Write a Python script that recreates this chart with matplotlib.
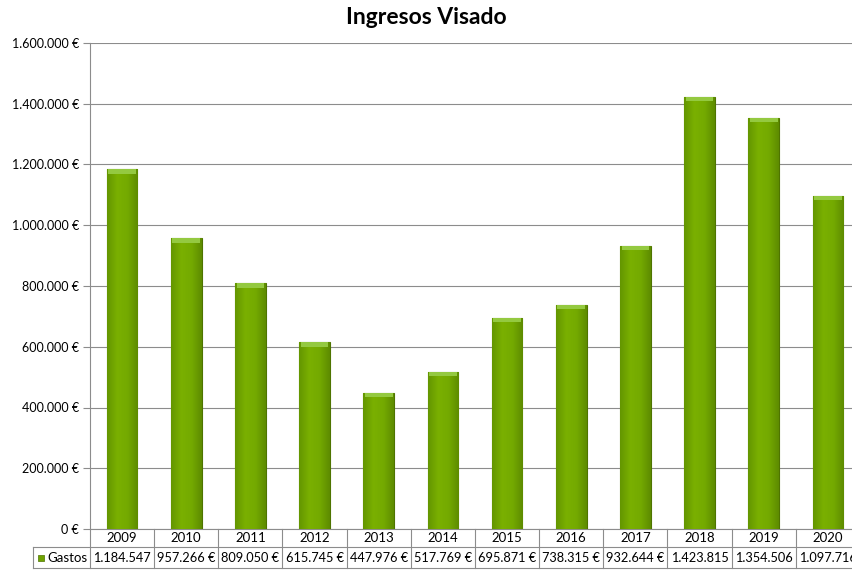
import matplotlib.pyplot as plt
from matplotlib.ticker import MultipleLocator, FuncFormatter
from matplotlib.transforms import blended_transform_factory
from matplotlib.colors import LinearSegmentedColormap
import numpy as np

plt.rcParams['font.family'] = ['Lato', 'DejaVu Sans']

years = ['2009', '2010', '2011', '2012', '2013', '2014',
         '2015', '2016', '2017', '2018', '2019', '2020']
gastos = [1184547, 957266, 809050, 615745, 447976, 517769,
          695871, 738315, 932644, 1423815, 1354506, 1097716]
serie = 'Gastos'
titulo = 'Ingresos Visado'

bar_col = '#6fa300'
edge_col = '#4e7400'
grid_col = '#8c8c8c'


def euros(v, pos=None):
    s = '{:,.0f}'.format(v).replace(',', '.')
    return s + ' €'


def celda(v):
    # Excel recorta el simbolo en las celdas que no caben
    s = '{:,.0f}'.format(v).replace(',', '.')
    return s if v >= 1000000 else s + ' €'


fig = plt.figure(figsize=(8.53, 5.71), dpi=100)
ax = fig.add_axes([90 / 853, 42 / 571, 770 / 853, 486 / 571])

x = np.arange(len(years))
w = 0.48
bars = ax.bar(x, gastos, width=w, color=bar_col, edgecolor=edge_col, linewidth=0.8, zorder=3)

# degradado horizontal dentro de cada barra
cmap = LinearSegmentedColormap.from_list('verde', ['#649600', '#7ab000', '#74aa00', '#5e8c00'])
grad = np.linspace(0, 1, 64).reshape(1, -1)
for b in bars:
    im = ax.imshow(grad, cmap=cmap, aspect='auto', zorder=3.5,
                   extent=(b.get_x(), b.get_x() + b.get_width(), 0, b.get_height()))
    im.set_clip_path(b)

# bisel superior de las barras
bevel = 15000
ax.bar(x, [bevel] * len(x), bottom=[g - bevel for g in gastos], width=w * 0.9,
       color='#94c940', linewidth=0, zorder=4)

ax.set_xlim(-0.5, len(years) - 0.5)
ax.set_ylim(0, 1600000)
ax.yaxis.set_major_locator(MultipleLocator(200000))
ax.yaxis.set_major_formatter(FuncFormatter(euros))
ax.grid(axis='y', color=grid_col, linewidth=0.8, zorder=0)
ax.set_xticks([])
ax.tick_params(axis='y', length=5, color=grid_col, labelsize=9, pad=3)

for s in ['top', 'right']:
    ax.spines[s].set_visible(False)
ax.spines['left'].set_color(grid_col)
ax.spines['bottom'].set_color(grid_col)

fig.text(0.5, 1 - 18 / 571, titulo, ha='center', va='center', fontsize=16.5, fontweight='bold')

# tabla de datos bajo el eje
tr = blended_transform_factory(ax.transData, ax.transAxes)
h1 = 18 / 486
h2 = 39 / 486
for i, (yr, g) in enumerate(zip(years, gastos)):
    ax.text(i, -h1 / 2, yr, transform=tr, ha='center', va='center', fontsize=9.5, clip_on=False)
    ax.text(i, -(h1 + h2) / 2 - 0.001, celda(g), transform=tr, ha='center', va='center',
            fontsize=9.2, clip_on=False)
for i in range(len(years) + 1):
    ax.plot([i - 0.5, i - 0.5], [0, -h2], transform=tr, color=grid_col, lw=0.8, clip_on=False)
x_left = -0.5 - 57 / (770 / 12)
ax.plot([x_left, len(years) - 0.5], [-h1, -h1], transform=tr, color=grid_col, lw=0.8, clip_on=False)
ax.plot([x_left, x_left], [-h1, -h2], transform=tr, color=grid_col, lw=0.8, clip_on=False)
ax.plot([x_left, len(years) - 0.5], [-h2, -h2], transform=tr, color=grid_col, lw=0.8, clip_on=False)
ax.scatter([x_left + 0.13], [-(h1 + h2) / 2], transform=tr, marker='s', s=22,
           color=bar_col, edgecolor=edge_col, linewidth=0.5, clip_on=False)
ax.text(x_left + 0.22, -(h1 + h2) / 2, serie, transform=tr, ha='left', va='center',
        fontsize=9.5, clip_on=False)

ax.set_ylim(0, 1600000)
ax.set_xlim(-0.5, len(years) - 0.5)

fig.savefig('out.png', dpi=100)
